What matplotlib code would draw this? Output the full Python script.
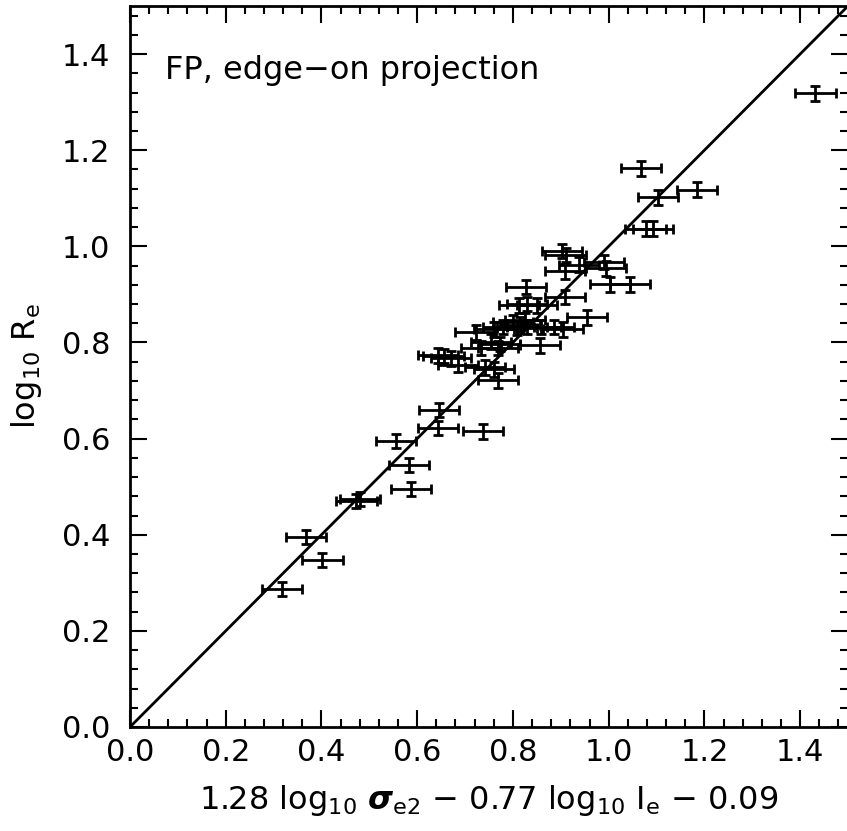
import matplotlib
matplotlib.use("Agg")
import matplotlib.pyplot as plt
import numpy as np

# FP edge-on projection: x = 1.28 log sigma - 0.77 log I - 0.09, y = log Re
x_fp = [1.432, 1.068, 1.103, 1.184, 1.077, 1.093, 0.990, 0.995, 1.002, 1.044,
        0.903, 0.910, 0.909, 0.938, 0.955, 0.828, 0.909, 0.813, 0.830, 0.851,
        0.800, 0.815, 0.825, 0.830, 0.808, 0.858, 0.885, 0.905, 0.857, 0.722,
        0.760, 0.780, 0.755, 0.773, 0.733, 0.768, 0.643, 0.655, 0.670, 0.685,
        0.741, 0.760, 0.768, 0.645, 0.643, 0.737, 0.556, 0.583, 0.587, 0.473,
        0.480, 0.367, 0.402, 0.317]
y_re = [1.318, 1.162, 1.102, 1.118, 1.037, 1.037, 0.967, 0.954, 0.921, 0.921,
        0.990, 0.982, 0.948, 0.962, 0.852, 0.915, 0.894, 0.877, 0.880, 0.877,
        0.842, 0.837, 0.847, 0.832, 0.830, 0.832, 0.832, 0.827, 0.794, 0.821,
        0.827, 0.832, 0.802, 0.797, 0.788, 0.788, 0.773, 0.772, 0.767, 0.754,
        0.748, 0.744, 0.721, 0.659, 0.622, 0.615, 0.595, 0.545, 0.495, 0.470,
        0.474, 0.395, 0.347, 0.287]
x_err = [0.042] * len(x_fp)
y_err = [0.015] * len(y_re)

fig = plt.figure(figsize=(8.47, 8.31), dpi=100)
ax = fig.add_axes([130 / 847, 104 / 831, 718 / 847, 721 / 831])

ax.errorbar(x_fp, y_re, xerr=x_err, yerr=y_err, fmt="none", ecolor="black",
            elinewidth=2, capsize=3.5, capthick=2)
ax.plot([0, 1.5], [0, 1.5], color="black", linewidth=2)

ax.set_xlim(0, 1.5)
ax.set_ylim(0, 1.5)
ax.set_xticks(np.arange(0, 1.41, 0.2))
ax.set_yticks(np.arange(0, 1.41, 0.2))
ax.set_xticks(np.arange(0, 1.5, 0.04), minor=True)
ax.set_yticks(np.arange(0, 1.5, 0.04), minor=True)
ax.xaxis.set_major_formatter(matplotlib.ticker.FormatStrFormatter("%.1f"))
ax.yaxis.set_major_formatter(matplotlib.ticker.FormatStrFormatter("%.1f"))
ax.tick_params(which="both", direction="in", top=True, right=True, width=1.5,
               labelsize=22)
ax.tick_params(axis="x", pad=8)
ax.tick_params(axis="y", pad=14)
ax.tick_params(which="major", length=12)
ax.tick_params(which="minor", length=6)
for s in ax.spines.values():
    s.set_linewidth(2)

ax.text(0.073, 1.366, "FP, edge\u2212on projection", fontsize=23, va="center")
ax.set_xlabel(r"1.28 log$_{10}$ $\boldsymbol{\sigma}_{\rm e2}$ $-$ 0.77 log$_{10}$ I$_{\rm e}$ $-$ 0.09",
              fontsize=23)
ax.set_ylabel(r"log$_{10}$ R$_{\rm e}$", fontsize=23)
ax.xaxis.set_label_coords(0.5, -0.078)
ax.yaxis.set_label_coords(-0.12, 0.5)

fig.savefig("out.png", dpi=100)
